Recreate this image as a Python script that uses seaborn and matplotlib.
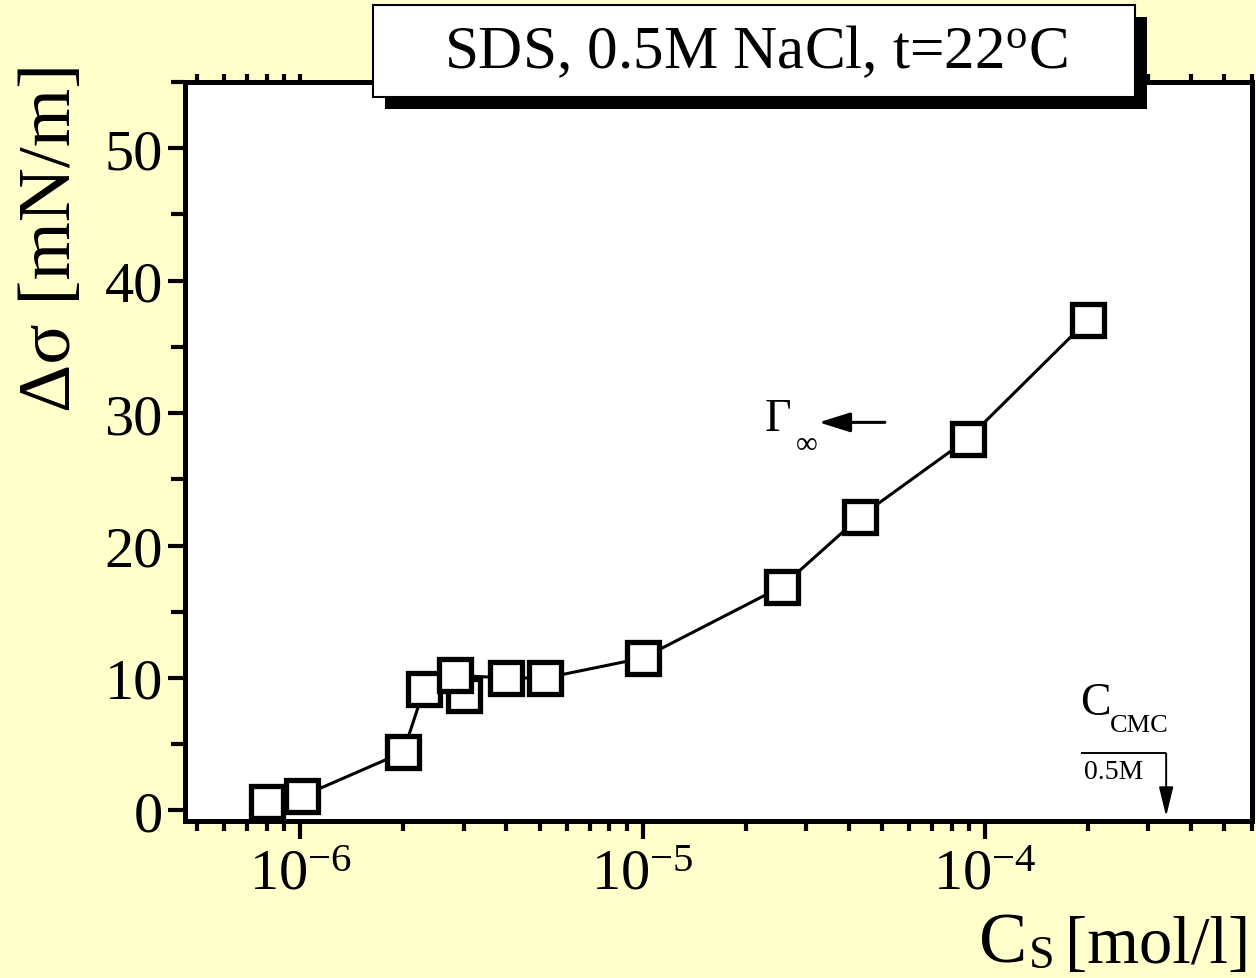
import numpy as np
import pandas as pd
import matplotlib
matplotlib.use("Agg")
import matplotlib.pyplot as plt
import matplotlib.ticker as mticker
from matplotlib.patches import Rectangle
import seaborn as sns

# Surface tension lowering of SDS in 0.5 M NaCl at 22 °C
conc = [8.0e-7, 1.01e-6, 2.0e-6, 2.3e-6, 3.0e-6, 2.84e-6, 4.0e-6, 5.2e-6,
        1.0e-5, 2.55e-5, 4.3e-5, 8.9e-5, 2.0e-4]          # mol/l
dsigma = [0.6, 1.06, 4.4, 9.15, 8.7, 10.2, 10.0, 10.0,
          11.5, 16.9, 22.15, 28.05, 37.05]                 # mN/m
cmc_05M = 3.38e-4         # critical micelle concentration at 0.5 M NaCl
gamma_inf_y = 29.3        # level of the saturation-adsorption mark

y_ticks = [0, 10, 20, 30, 40, 50]

sns.set_theme(style="ticks")
plt.rcParams["font.family"] = ["Liberation Serif", "DejaVu Serif"]
plt.rcParams["mathtext.fontset"] = "custom"
plt.rcParams["mathtext.rm"] = "Liberation Serif"
plt.rcParams["mathtext.it"] = "Liberation Serif:italic"
plt.rcParams["mathtext.bf"] = "Liberation Serif:bold"

BG = "#FFFFCC"
W, H = 1256, 979
fig = plt.figure(figsize=(W / 100, H / 100), dpi=100, facecolor=BG)
ax = fig.add_axes([185 / W, 1 - 822 / H, (1252 - 185) / W, (822 - 83) / H])
ax.set_facecolor("white")

df = pd.DataFrame({"c": conc, "ds": dsigma})
sns.lineplot(data=df, x="c", y="ds", sort=False, estimator=None, ax=ax,
             color="black", lw=2.2, marker="s", markersize=23,
             markerfacecolor="white", markeredgecolor="black",
             markeredgewidth=3.8)

ax.set_xscale("log")
ax.set_xlim(4.61e-7, 6.02e-4)
ax.set_ylim(-0.8, 55)
ax.set_xlabel("")
ax.set_ylabel("")

# axes frame and ticks
for sp in ax.spines.values():
    sp.set_linewidth(3.6)
    sp.set_color("black")

ax.xaxis.set_major_locator(mticker.LogLocator(base=10, numticks=10))
ax.xaxis.set_minor_locator(mticker.LogLocator(base=10, subs=np.arange(2, 10), numticks=20))
ax.xaxis.set_minor_formatter(mticker.NullFormatter())
ax.yaxis.set_major_locator(mticker.FixedLocator(y_ticks))
ax.yaxis.set_minor_locator(mticker.MultipleLocator(5))

ax.tick_params(axis="x", which="major", direction="out", length=13, width=3,
               labelsize=42, pad=7, color="black", labelcolor="black")
ax.tick_params(axis="x", which="minor", direction="out", length=7, width=3,
               color="black")
ax.tick_params(axis="y", which="major", direction="out", length=12, width=3,
               labelsize=42, pad=4, color="black", labelcolor="black")
ax.tick_params(axis="y", which="minor", direction="out", length=10, width=3,
               color="black")

top = ax.secondary_xaxis("top")
top.xaxis.set_major_locator(mticker.LogLocator(base=10, numticks=10))
top.xaxis.set_minor_locator(mticker.LogLocator(base=10, subs=np.arange(2, 10), numticks=20))
top.xaxis.set_minor_formatter(mticker.NullFormatter())
top.tick_params(which="both", direction="out", length=6, width=3,
                labeltop=False, labelbottom=False, color="black")
top.spines["top"].set_linewidth(3.6)

# x axis title: C with a lowered S subscript, then the unit
fig.text(1250 / W, 1 - 963 / H, "[mol/l]", fontsize=48,
         ha="right", va="baseline", color="black")
fig.text(1027 / W, 1 - 963 / H, "C", fontsize=52,
         ha="right", va="baseline", color="black")
fig.text(1029 / W, 1 - 978 / H, "S", fontsize=33,
         ha="left", va="bottom", color="black")

# y axis title
fig.text(52 / W, 1 - 237 / H, "Δσ [mN/m]", fontsize=54, rotation=90,
         ha="center", va="center", color="black")

# saturation adsorption mark
ax.text(2.27e-5, 28.7, "Γ", fontsize=33, ha="left", va="baseline",
        color="black")
ax.text(2.8e-5, 27.6, "∞", fontsize=22, ha="left", va="center",
        color="black")
ax.annotate("", xy=(3.27e-5, gamma_inf_y), xytext=(5.1e-5, gamma_inf_y),
            arrowprops=dict(arrowstyle="-|>,head_length=0.8,head_width=0.25",
                            color="black", lw=2.2, mutation_scale=24,
                            shrinkA=0, shrinkB=0))

# CMC marker
ax.text(1.89e-4, 7.26, "C", fontsize=33, ha="left", va="baseline",
        color="black")
ax.text(2.32e-4, 6.0, "CMC", fontsize=19, ha="left", va="baseline",
        color="black")
ax.plot([cmc_05M / 1.77, cmc_05M], [4.3, 4.3], color="black", lw=1.4,
        solid_capstyle="butt")
ax.annotate("", xy=(cmc_05M, -0.45), xytext=(cmc_05M, 4.3),
            arrowprops=dict(arrowstyle="-|>,head_length=0.9,head_width=0.22",
                            color="black", lw=1.4, mutation_scale=20,
                            shrinkA=0, shrinkB=0))
ax.text(cmc_05M / 1.42, 2.9, "0.5M", fontsize=20, ha="center", va="center",
        color="black")

# title box with drop shadow
def px_rect(x0, y0, x1, y1, **kw):
    return Rectangle((x0 / W, 1 - y1 / H), (x1 - x0) / W, (y1 - y0) / H,
                     transform=fig.transFigure, **kw)

fig.add_artist(px_rect(385, 18, 1147, 110, facecolor="black",
                       edgecolor="none", zorder=10))
fig.add_artist(px_rect(373, 6, 1135, 98, facecolor="white",
                       edgecolor="black", linewidth=1.5, zorder=11))
fig.text(756 / W, 1 - 53 / H, r"SDS, 0.5M NaCl, t=22$^\mathrm{o}$C",
         fontsize=44, ha="center", va="center", color="black", zorder=12)

fig.savefig("out.png", dpi=100, facecolor=BG)
